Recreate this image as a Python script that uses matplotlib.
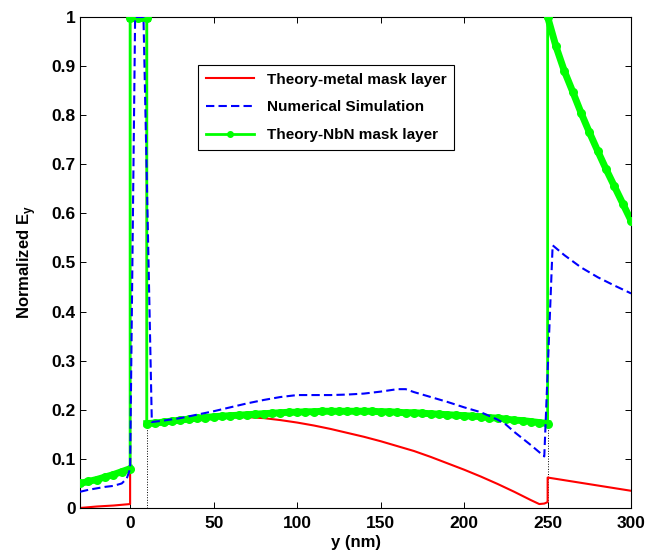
import numpy as np
import matplotlib.pyplot as plt

plt.rcParams['font.family'] = ['Liberation Sans', 'DejaVu Sans']
plt.rcParams['font.weight'] = 'bold'
plt.rcParams['mathtext.fontset'] = 'custom'
plt.rcParams['mathtext.rm'] = 'Liberation Sans:bold'
plt.rcParams['mathtext.bf'] = 'Liberation Sans:bold'

# Theory - metal mask layer
x_metal = [-30, -20, -10, 0, 0, 10, 10, 20, 30, 40, 50, 60, 70, 80, 90, 100,
           110, 120, 130, 140, 150, 160, 170, 180, 190, 200, 210, 220, 230,
           240, 245, 248, 250, 250, 300]
y_metal = [0.000, 0.003, 0.005, 0.008, 1.0, 1.0, 0.172, 0.175, 0.178, 0.181,
           0.183, 0.185, 0.185, 0.183, 0.179, 0.174, 0.168, 0.161, 0.153,
           0.145, 0.136, 0.126, 0.116, 0.104, 0.091, 0.078, 0.064, 0.049,
           0.033, 0.016, 0.008, 0.009, 0.012, 0.062, 0.035]

# Numerical simulation
x_sim = [-30, -25, -20, -15, -10, -5, -2, 0, 3, 8, 13, 20, 30, 40, 50, 60, 70,
         80, 90, 100, 110, 120, 130, 140, 150, 160, 165, 170, 180, 190, 200,
         210, 220, 225, 230, 240, 248, 253, 260, 270, 280, 290, 300]
y_sim = [0.033, 0.037, 0.040, 0.043, 0.045, 0.050, 0.060, 0.080, 1.0, 1.0,
         0.175, 0.178, 0.183, 0.190, 0.197, 0.205, 0.213, 0.220, 0.226, 0.230,
         0.230, 0.230, 0.231, 0.233, 0.237, 0.242, 0.242, 0.236, 0.226, 0.216,
         0.205, 0.195, 0.180, 0.170, 0.155, 0.128, 0.105, 0.535, 0.515, 0.490,
         0.470, 0.453, 0.437]

# Theory - NbN mask layer
x_nbn = [-30, -25, -20, -15, -10, -5, 0, 0, 5, 10, 10, 15, 20, 25, 30, 35, 40,
         45, 50, 55, 60, 65, 70, 75, 80, 85, 90, 95, 100, 105, 110, 115, 120,
         125, 130, 135, 140, 145, 150, 155, 160, 165, 170, 175, 180, 185, 190,
         195, 200, 205, 210, 215, 220, 225, 230, 235, 240, 245, 250, 250, 255,
         260, 265, 270, 275, 280, 285, 290, 295, 300]
y_nbn = [0.050, 0.054, 0.058, 0.063, 0.068, 0.074, 0.080, 0.997, 0.997, 0.997,
         0.172, 0.173, 0.175, 0.177, 0.179, 0.181, 0.183, 0.184, 0.186, 0.187,
         0.188, 0.189, 0.190, 0.191, 0.192, 0.193, 0.194, 0.195, 0.195, 0.196,
         0.196, 0.197, 0.197, 0.197, 0.197, 0.197, 0.197, 0.197, 0.196, 0.196,
         0.195, 0.194, 0.194, 0.193, 0.192, 0.191, 0.190, 0.189, 0.188, 0.187,
         0.186, 0.184, 0.183, 0.181, 0.179, 0.178, 0.176, 0.174, 0.172, 1.0,
         0.940, 0.890, 0.848, 0.805, 0.765, 0.727, 0.690, 0.655, 0.620, 0.585]

boundaries = [0, 10, 250]
green = '#00ff00'

fig = plt.figure(figsize=(6.64, 5.57), dpi=100)
ax = fig.add_axes([0.1205, 0.088, 0.830, 0.8815])

for b in boundaries:
    ax.plot([b, b], [0, 1], color='black', lw=0.7, ls=':', zorder=1)

ax.plot(x_metal, y_metal, color='red', lw=1.5, zorder=2)

# thin green line incl. the jumps, dense markers make the flat parts look thick
xn = np.array(x_nbn)
yn = np.array(y_nbn)
ax.plot(xn, yn, color=green, lw=2, zorder=3)
cuts = np.where(np.diff(xn) == 0)[0] + 1
for sx, sy in zip(np.split(xn, cuts), np.split(yn, cuts)):
    ax.plot(sx, sy, color=green, lw=5, marker='o', ms=6.5,
            markeredgewidth=0, zorder=3)

ax.plot(x_sim, y_sim, color='blue', lw=1.5, ls='--', dashes=(4, 2), zorder=4)

# legend entries
ax.plot([], [], color='red', lw=1.5, label='Theory-metal mask layer')
ax.plot([], [], color='blue', lw=1.5, ls='--', dashes=(4, 2), label='Numerical Simulation')
ax.plot([], [], color=green, lw=2, marker='o', ms=4, label='Theory-NbN mask layer')

ax.set_xlim(-30, 300)
ax.set_ylim(0, 1)
ax.set_xticks([0, 50, 100, 150, 200, 250, 300])
ax.set_yticks(np.arange(0, 1.01, 0.1))
ax.set_yticklabels(['0', '0.1', '0.2', '0.3', '0.4', '0.5', '0.6', '0.7', '0.8', '0.9', '1'])
ax.tick_params(direction='in', top=True, right=True, labelsize=12.5, length=4, width=0.7)
ax.tick_params(axis='x', pad=6)
ax.tick_params(axis='y', pad=3)
for s in ax.spines.values():
    s.set_linewidth(0.8)

ax.set_xlabel('y (nm)', fontsize=12, fontweight='bold', labelpad=3)
ax.set_ylabel(r'Normalized E$_\mathbf{y}$', fontsize=12, fontweight='bold', labelpad=10)

leg = ax.legend(loc='upper left', bbox_to_anchor=(0.214, 0.902), fontsize=11,
                fancybox=False, edgecolor='black', framealpha=1,
                handlelength=3.2, borderaxespad=0, labelspacing=0.9,
                borderpad=0.5)
leg.get_frame().set_linewidth(0.8)

fig.savefig('out.png', dpi=100)
